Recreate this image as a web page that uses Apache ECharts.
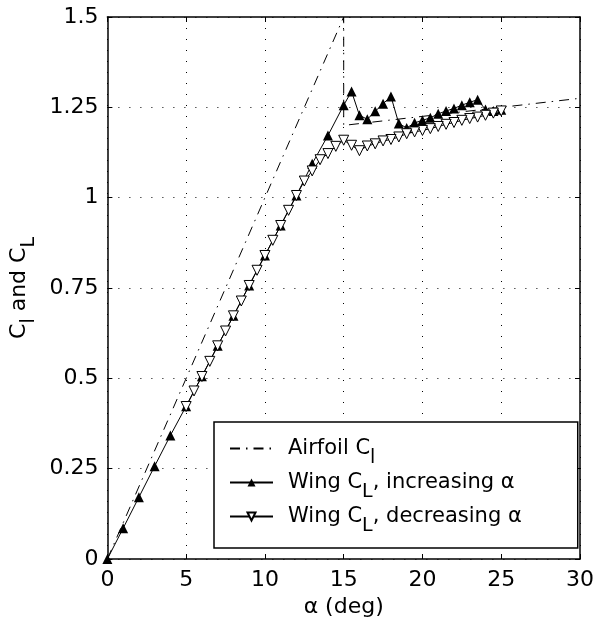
<!DOCTYPE html>
<html>
<head>
<meta charset="utf-8">
<script src="https://cdn.jsdelivr.net/npm/echarts@6/dist/echarts.min.js"></script>
<style>html,body{margin:0;padding:0;background:#fff}#c{width:602px;height:629px}</style>
</head>
<body>
<div id="c"></div>
<script>
// ---- data ----
const airfoilAlpha = [0, 15, 15, 30];
const airfoilCl    = [0, 1.5, 1.2, 1.275];

const incAlpha = [0,1,2,3,4,5,6,7,8,9,10,11,12,13,14,
                  15,15.5,16,16.5,17,17.5,18,18.5,19,19.5,20,20.5,21,21.5,22,22.5,23,23.5,24,24.5,25];
const incCL    = [0,0.085,0.171,0.257,0.342,0.423,0.506,0.590,0.673,0.757,0.840,0.923,1.006,1.094,1.172,
                  1.256,1.294,1.228,1.217,1.239,1.260,1.280,1.205,1.193,1.207,1.214,1.221,1.232,1.240,1.247,1.256,1.264,1.271,1.244,1.240,1.243];

const decAlpha = [25,24.5,24,23.5,23,22.5,22,21.5,21,20.5,20,19.5,19,18.5,18,17.5,17,16.5,16,15.5,15,
                  14.5,14,13.5,13,12.5,12,11.5,11,10.5,10,9.5,9,8.5,8,7.5,7,6.5,6,5.5,5];
const decCL    = [1.240,1.234,1.228,1.223,1.219,1.214,1.208,1.203,1.197,1.191,1.186,1.182,1.177,1.168,1.161,1.157,1.149,1.143,1.130,1.145,1.159,
                  1.142,1.122,1.105,1.074,1.046,1.006,0.965,0.923,0.882,0.840,0.799,0.757,0.714,0.673,0.631,0.590,0.547,0.505,0.465,0.422];

const xTicks = {min: 0, max: 30, step: 5};
const yTicks = {min: 0, max: 1.5, step: 0.25};

const seriesNames = ['Airfoil Cl', 'Wing CL, increasing α', 'Wing CL, decreasing α'];
const legendRich  = ['{g| }Airfoil C{s|l}', '{g| }Wing C{s|L}, increasing α', '{g| }Wing C{s|L}, decreasing α'];

// ---- chart ----
const FONT = 'DejaVu Sans';
const zip = (a, b) => a.map((v, i) => [v, b[i]]);
const chart = echarts.init(document.getElementById('c'), null, {renderer: 'canvas'});
const dotted = {show: true, lineStyle: {color: '#000', width: 1, type: [1, 10]}};
const axisLine = {show: true, onZero: false, lineStyle: {color: '#000', width: 1.5}};
const tick = {show: true, inside: true, length: 5, lineStyle: {color: '#000', width: 1}};
const subRich = {
  s: {fontSize: 19, fontFamily: FONT, color: '#000', padding: [20, 0, 0, 0]},
  g: {width: 10}
};

chart.setOption({
  animation: false,
  backgroundColor: '#fff',
  grid: {left: 105, right: 22, top: 17, bottom: 70, show: false},
  xAxis: [
    {type: 'value', min: xTicks.min, max: xTicks.max, interval: xTicks.step, position: 'bottom',
     axisLine, axisTick: tick, splitLine: dotted,
     axisLabel: {color: '#000', fontSize: 22, fontFamily: FONT, margin: 10},
     name: 'α (deg)', nameLocation: 'middle', nameGap: 36,
     nameTextStyle: {color: '#000', fontSize: 22, fontFamily: FONT}},
    {type: 'value', min: xTicks.min, max: xTicks.max, interval: xTicks.step, position: 'top',
     axisLine, axisTick: tick, splitLine: {show: false}, axisLabel: {show: false}}
  ],
  yAxis: [
    {type: 'value', min: yTicks.min, max: yTicks.max, interval: yTicks.step, position: 'left',
     axisLine, axisTick: tick, splitLine: dotted,
     axisLabel: {color: '#000', fontSize: 22, fontFamily: FONT, margin: 9},
     name: 'C{s|l} and C{s|L}', nameLocation: 'middle', nameGap: 52, nameRotate: 90,
     nameTextStyle: {color: '#000', fontSize: 22, fontFamily: FONT, rich: subRich}},
    {type: 'value', min: yTicks.min, max: yTicks.max, interval: yTicks.step, position: 'right',
     axisLine, axisTick: tick, splitLine: {show: false}, axisLabel: {show: false}}
  ],
  legend: {
    data: [
      {name: seriesNames[0], itemStyle: {color: 'rgba(0,0,0,0)', borderWidth: 0, opacity: 0}},
      {name: seriesNames[1]},
      {name: seriesNames[2]}
    ],
    orient: 'vertical', left: 214, top: 422,
    backgroundColor: '#fff', borderColor: '#000', borderWidth: 1.5,
    padding: [16, 56, 12, 15], itemGap: 4, itemWidth: 43, itemHeight: 10,
    formatter: name => legendRich[seriesNames.indexOf(name)],
    textStyle: {color: '#000', fontSize: 21, fontFamily: FONT, rich: subRich}
  },
  series: [
    {name: seriesNames[0], type: 'line', data: zip(airfoilAlpha, airfoilCl), symbol: 'none',
     lineStyle: {color: '#000', width: 1, type: [10, 6, 1.5, 6]}, itemStyle: {color: '#000'}, z: 2},
    {name: seriesNames[1], type: 'line', data: zip(incAlpha, incCL), symbol: 'triangle', symbolSize: 10,
     lineStyle: {color: '#000', width: 1}, itemStyle: {color: '#000'}, z: 3},
    {name: seriesNames[2], type: 'line', data: zip(decAlpha, decCL), symbol: 'triangle', symbolSize: 10, symbolRotate: 180,
     lineStyle: {color: '#000', width: 1}, itemStyle: {color: '#fff', borderColor: '#000', borderWidth: 1}, z: 4}
  ]
});
</script>
</body>
</html>
